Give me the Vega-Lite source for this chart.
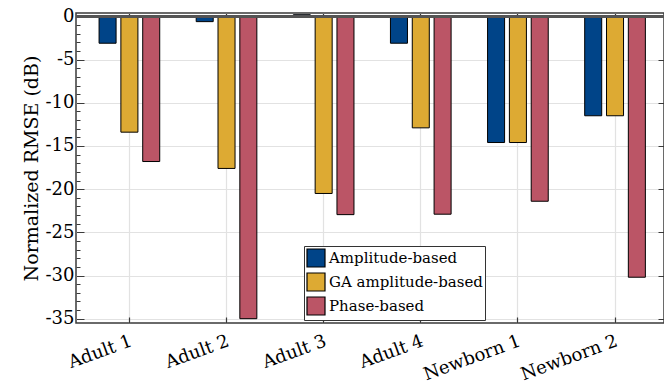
{
  "$schema": "https://vega.github.io/schema/vega-lite/v6.json",
  "width": 588,
  "height": 310,
  "autosize": "none",
  "padding": {"left": 76, "top": 13, "right": 0, "bottom": 63},
  "background": "white",
  "config": {
    "view": {"stroke": "#3a3a3a", "strokeWidth": 1.5},
    "font": "DejaVu Serif",
    "axis": {"labelFont": "DejaVu Serif", "titleFont": "DejaVu Serif"},
    "legend": {"labelFont": "DejaVu Serif"}
  },
  "data": {
    "values": [
      {"Subject": "Adult 1", "Method": "Amplitude-based", "value": -3.1},
      {"Subject": "Adult 1", "Method": "GA amplitude-based", "value": -13.4},
      {"Subject": "Adult 1", "Method": "Phase-based", "value": -16.8},
      {"Subject": "Adult 2", "Method": "Amplitude-based", "value": -0.6},
      {"Subject": "Adult 2", "Method": "GA amplitude-based", "value": -17.6},
      {"Subject": "Adult 2", "Method": "Phase-based", "value": -35.0},
      {"Subject": "Adult 3", "Method": "Amplitude-based", "value": 0.2},
      {"Subject": "Adult 3", "Method": "GA amplitude-based", "value": -20.5},
      {"Subject": "Adult 3", "Method": "Phase-based", "value": -22.95},
      {"Subject": "Adult 4", "Method": "Amplitude-based", "value": -3.1},
      {"Subject": "Adult 4", "Method": "GA amplitude-based", "value": -12.9},
      {"Subject": "Adult 4", "Method": "Phase-based", "value": -22.9},
      {"Subject": "Newborn 1", "Method": "Amplitude-based", "value": -14.6},
      {"Subject": "Newborn 1", "Method": "GA amplitude-based", "value": -14.6},
      {"Subject": "Newborn 1", "Method": "Phase-based", "value": -21.4},
      {"Subject": "Newborn 2", "Method": "Amplitude-based", "value": -11.5},
      {"Subject": "Newborn 2", "Method": "GA amplitude-based", "value": -11.5},
      {"Subject": "Newborn 2", "Method": "Phase-based", "value": -30.2}
    ]
  },
  "layer": [
    {
      "mark": {"type": "bar", "stroke": "black", "strokeWidth": 1},
      "encoding": {
        "x": {
          "field": "Subject",
          "type": "nominal",
          "sort": ["Adult 1", "Adult 2", "Adult 3", "Adult 4", "Newborn 1", "Newborn 2"],
          "scale": {"paddingInner": 0.326, "paddingOuter": 0.19, "align": 0.56},
          "axis": {
            "orient": "bottom",
            "title": null,
            "domain": false,
            "grid": true,
            "gridColor": "#e2e2e2",
            "gridWidth": 1.2,
            "tickColor": "#3a3a3a",
            "tickSize": -6,
            "tickWidth": 1.2,
            "labelAngle": -20,
            "labelAlign": "right",
            "labelBaseline": "top",
            "labelFont": "DejaVu Serif",
            "labelFontSize": 18,
            "labelColor": "black",
            "labelPadding": 15,
            "labelOffset": -1
          }
        },
        "xOffset": {
          "field": "Method",
          "sort": ["Amplitude-based", "GA amplitude-based", "Phase-based"],
          "scale": {"paddingInner": 0.22, "paddingOuter": 0.11}
        },
        "y": {
          "field": "value",
          "type": "quantitative",
          "scale": {"domain": [-35.5, 0.4], "nice": false, "zero": false},
          "axis": {
            "orient": "left",
            "title": "Normalized RMSE (dB)",
            "titleFont": "DejaVu Serif",
            "titleFontSize": 19,
            "titleFontWeight": "normal",
            "titleColor": "black",
            "titlePadding": 4,
            "domain": false,
            "values": [-35,-34,-33,-32,-31,-30,-29,-28,-27,-26,-25,-24,-23,-22,-21,-20,-19,-18,-17,-16,-15,-14,-13,-12,-11,-10,-9,-8,-7,-6,-5,-4,-3,-2,-1,0],
            "labelExpr": "datum.value % 5 === 0 ? (datum.value < 0 ? '-' + abs(datum.value) : '' + datum.value) : ''",
            "labelFont": "DejaVu Serif",
            "labelFontSize": 18,
            "labelColor": "black",
            "labelPadding": 10,
            "grid": true,
            "gridColor": "#e2e2e2",
            "gridWidth": 1.2,
            "gridOpacity": {"condition": {"test": "datum.value % 5 === 0", "value": 1}, "value": 0},
            "tickColor": "#3a3a3a",
            "tickWidth": 1,
            "tickSize": {"condition": {"test": "datum.value % 5 === 0", "value": -8}, "value": -4}
          }
        },
        "color": {
          "field": "Method",
          "type": "nominal",
          "scale": {
            "domain": ["Amplitude-based", "GA amplitude-based", "Phase-based"],
            "range": ["#004488", "#DDAA33", "#BB5566"]
          },
          "legend": {
            "title": null,
            "orient": "none",
            "legendX": 228,
            "legendY": 233,
            "labelFont": "DejaVu Serif",
            "labelFontSize": 15,
            "labelLimit": 400,
            "labelColor": "black",
            "symbolType": "square",
            "symbolSize": 324,
            "symbolStrokeColor": "black",
            "symbolStrokeWidth": 1.2,
            "symbolOpacity": 1,
            "rowPadding": 0,
            "padding": 2,
            "labelOffset": 3,
            "strokeColor": "#333333",
            "fillColor": "white"
          }
        }
      }
    },
    {
      "mark": {"type": "rule", "color": "#555555", "strokeWidth": 1.5},
      "encoding": {
        "y": {"datum": 0, "type": "quantitative", "axis": null}
      }
    },
    {
      "mark": {"type": "point", "opacity": 0},
      "encoding": {
        "x": {
          "field": "Subject",
          "type": "nominal",
          "sort": ["Adult 1", "Adult 2", "Adult 3", "Adult 4", "Newborn 1", "Newborn 2"],
          "axis": {
            "orient": "top",
            "title": null,
            "domain": false,
            "grid": false,
            "labels": false,
            "tickColor": "#3a3a3a",
            "tickSize": -6,
            "tickWidth": 1.2
          }
        },
        "y": {
          "field": "value",
          "type": "quantitative",
          "axis": {
            "orient": "right",
            "title": null,
            "domain": false,
            "grid": false,
            "labels": false,
            "values": [-35,-30,-25,-20,-15,-10,-5,0],
            "tickColor": "#3a3a3a",
            "tickSize": -6,
            "tickWidth": 1
          }
        }
      }
    }
  ],
  "resolve": {"axis": {"x": "independent", "y": "independent"}}
}
